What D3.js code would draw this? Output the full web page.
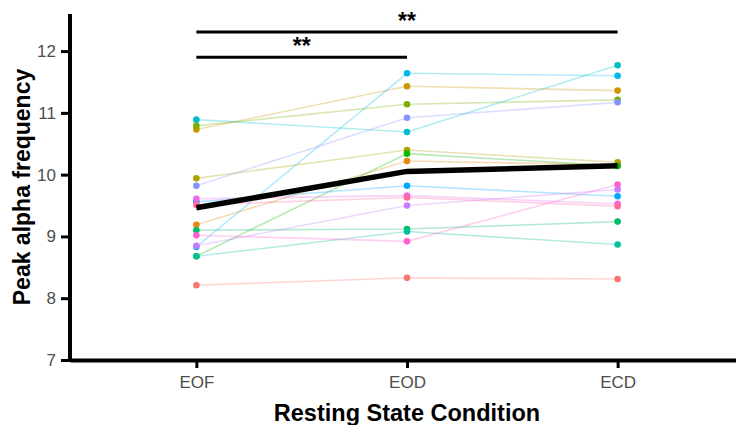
<!DOCTYPE html>
<html>
<head>
<meta charset="utf-8">
<script src="https://cdn.jsdelivr.net/npm/d3@7"></script>
<style>
  body { margin: 0; background: #fff; }
  svg { display: block; font-family: "Liberation Sans", Arial, sans-serif; }
</style>
</head>
<body>
<div id="chart"></div>
<script>
// Data: one value per subject and condition
const conditions = ["EOF", "EOD", "ECD"];
const subjectColors = ["#F8766D", "#E68613", "#CD9600", "#ABA300", "#7CAE00", "#0CB702", "#00BE67", "#00C19A",
  "#00BFC4", "#00B8E7", "#00A9FF", "#8494FF", "#C77CFF", "#ED68ED", "#FF61CC", "#FF68A1"];
const eofValues = [8.21, 9.19, 10.73, 9.94, 10.79, 8.68, 9.10, 8.68, 10.89, 8.83, 9.56, 9.82, 8.85, 9.61, 9.02, 9.51];
const eodValues = [8.33, 10.22, 11.43, 10.40, 11.14, 10.34, 9.12, 9.08, 10.69, 11.64, 9.82, 10.92, 9.50, 9.66, 8.92, 9.63];
const ecdValues = [8.31, 10.16, 11.36, 10.20, 11.21, 10.14, 9.24, 8.87, 11.77, 11.60, 9.65, 11.17, 9.76, 9.53, 9.84, 9.49];
const yTicks = [7, 8, 9, 10, 11, 12];

// significance brackets
const sigFrom = ["EOF", "EOF"];
const sigTo = ["ECD", "EOD"];
const sigLevel = [12.31, 11.90];
const sigLabel = ["**", "**"];

const w = 736;
const h = 425;
const p = { left: 70, right: 744, top: 14, bottom: 360 };

const xScale = d3.scalePoint()
  .domain(conditions)
  .range([p.left, p.right])
  .padding(0.6);
const yScale = d3.scaleLinear()
  .domain([7, 12.6])
  .range([p.bottom, p.top]);

const subjects = subjectColors.map((c, i) => ({
  color: c,
  values: [eofValues[i], eodValues[i], ecdValues[i]]
}));
const means = conditions.map((c, j) => d3.mean(subjects, s => s.values[j]));

const svg = d3.select("#chart")
  .append("svg")
  .attr("width", w)
  .attr("height", h);

const line = d3.line()
  .x((d, i) => xScale(conditions[i]))
  .y(d => yScale(d));

// subject lines
svg.append("g")
  .selectAll("path")
  .data(subjects)
  .enter()
  .append("path")
  .attr("d", d => line(d.values))
  .attr("fill", "none")
  .attr("stroke", d => d.color)
  .attr("stroke-width", 1.6)
  .attr("stroke-opacity", 0.3);

// subject points
const pts = [];
subjects.forEach(s => s.values.forEach((v, j) => pts.push({ c: s.color, cond: conditions[j], v: v })));
svg.append("g")
  .selectAll("circle")
  .data(pts)
  .enter()
  .append("circle")
  .attr("cx", d => xScale(d.cond))
  .attr("cy", d => yScale(d.v))
  .attr("r", 3.3)
  .attr("fill", d => d.c);

// mean line
svg.append("path")
  .attr("d", line(means))
  .attr("fill", "none")
  .attr("stroke", "#000")
  .attr("stroke-width", 5.5);

// axes
const xAxis = d3.axisBottom(xScale).tickSizeInner(8).tickSizeOuter(0).tickPadding(8);
const yAxis = d3.axisLeft(yScale).tickValues(yTicks).tickFormat(d3.format("d"))
  .tickSizeInner(9).tickSizeOuter(0).tickPadding(5);

const gx = svg.append("g")
  .attr("transform", "translate(0," + p.bottom + ")")
  .call(xAxis);
const gy = svg.append("g")
  .attr("transform", "translate(" + p.left + ",0)")
  .call(yAxis);

[gx, gy].forEach(g => {
  g.select(".domain").attr("stroke", "#000").attr("stroke-width", 4);
  g.selectAll(".tick line").attr("stroke", "#000").attr("stroke-width", 3);
  g.selectAll(".tick text")
    .attr("fill", "#4D4D4D")
    .style("font-size", "17px")
    .style("font-family", "'Liberation Sans', Arial, sans-serif");
});
gy.select(".domain").attr("d", "M0," + (p.bottom + 2) + "V" + p.top);

// axis titles
svg.append("text")
  .attr("x", xScale("EOD"))
  .attr("y", 421)
  .attr("text-anchor", "middle")
  .style("font-size", "23.5px")
  .style("font-weight", "bold")
  .text("Resting State Condition");
svg.append("text")
  .attr("transform", "translate(29.5," + ((p.top + p.bottom) / 2) + ") rotate(-90)")
  .attr("text-anchor", "middle")
  .style("font-size", "23px")
  .style("font-weight", "bold")
  .text("Peak alpha frequency");

// significance bars
const sig = svg.append("g");
sigLabel.forEach((lab, i) => {
  const x1 = xScale(sigFrom[i]);
  const x2 = xScale(sigTo[i]);
  const y = yScale(sigLevel[i]);
  sig.append("line")
    .attr("x1", x1).attr("x2", x2)
    .attr("y1", y).attr("y2", y)
    .attr("stroke", "#000")
    .attr("stroke-width", 3);
  sig.append("text")
    .attr("x", (x1 + x2) / 2)
    .attr("y", y - 3)
    .attr("text-anchor", "middle")
    .style("font-size", "23px")
    .style("font-weight", "bold")
    .text(lab);
});
</script>
</body>
</html>
